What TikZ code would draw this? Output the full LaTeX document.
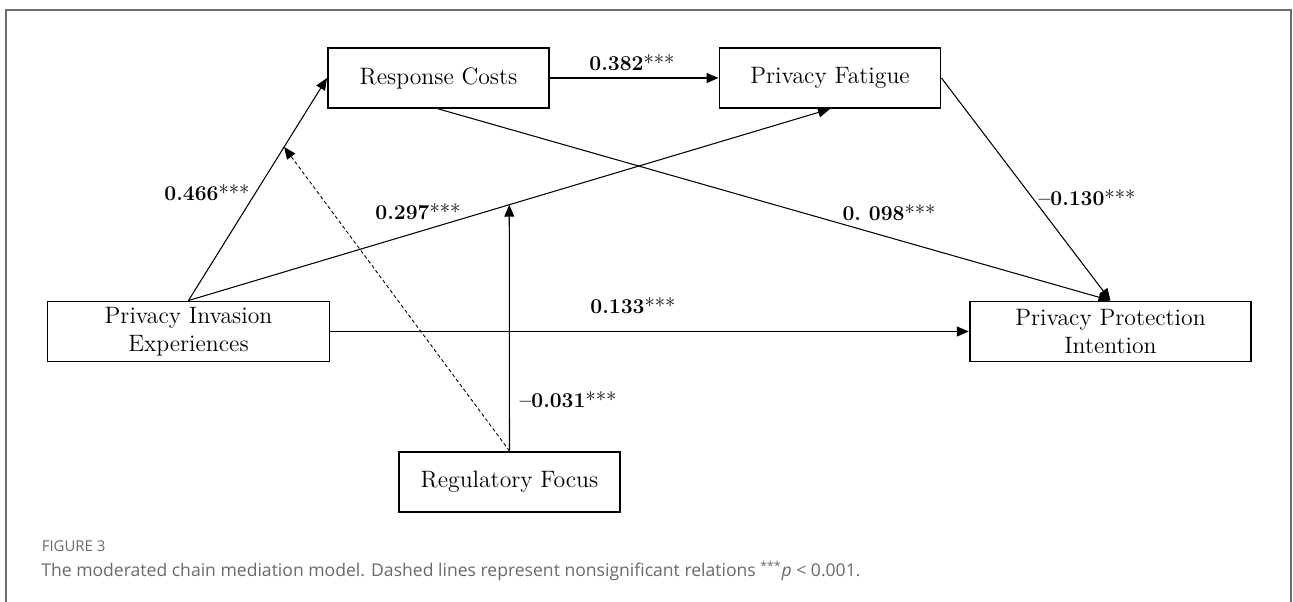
\documentclass[tikz,border=0pt]{standalone}
\usepackage{fontspec}
\newfontfamily\capfont{Open Sans}
\usetikzlibrary{arrows.meta,calc,positioning}
\definecolor{capgray}{RGB}{105,105,105}
\definecolor{framegray}{RGB}{110,110,110}
\tikzset
{
    varnode/.style = {rectangle, draw=black, line width=1.1pt, align=center, minimum width=4.42cm, minimum height=1.2cm, inner sep=1pt, font=\fontsize{13.5}{16}\selectfont},
    coef/.style    = {inner sep=0pt, font=\fontsize{12}{14}\selectfont\bfseries},
    effect/.style  = {draw=black, line width=0.6pt, -{Triangle[length=0.24cm,width=0.2cm]}},
    figlabel/.style = {inner sep=0pt, text=capgray, font=\capfont\fontsize{8.5}{10}\selectfont},
    captext/.style  = {inner sep=0pt, text=capgray, font=\capfont\fontsize{10}{12}\selectfont}
}
\newcommand\sig{{\mdseries ***}}

\begin{document}
\begin{tikzpicture}
\useasboundingbox (0,0) rectangle (25.86,12.04);
\draw[framegray, line width=1.1pt] (0.12,0) -- (0.12,11.84) -- (25.82,11.84) -- (25.82,0);

\node (rc)  [varnode]                      at (8.77,10.48)  {Response Costs};
\node (pf)  [varnode]                      at (16.6,10.48)  {Privacy Fatigue};
\node (pie) [varnode, minimum width=5.64cm] at (3.77,5.41)   {Privacy Invasion\\Experiences};
\node (ppi) [varnode, minimum width=5.63cm] at (22.21,5.41)  {Privacy Protection\\Intention};
\node (rf)  [varnode]                      at (10.19,2.4)   {Regulatory Focus};

% moderation targets
\coordinate (modrc) at ($(pie.north)!0.69!(rc.west)$);
\coordinate (modpf) at ($(pie.north)!0.5!(pf.south)$);

\path
(pie.north) edge[effect] (rc.west)
(pie.north) edge[effect] (pf.south)
(rc.east)   edge[effect] (pf.west)
(rc.south)  edge[effect] (ppi.north)
(pf.east)   edge[effect] (ppi.north)
(pie.east)  edge[effect] (ppi.west)
(rf.north)  edge[effect] (modpf)
(rf.north)  edge[effect, line width=0.5pt, dash pattern=on 2pt off 1.5pt] (modrc);

%% coefficients
\node (c1) [coef] at (4.14,8.18)  {0.466\sig};
\node (c2) [coef] at (8.36,7.8)   {0.297\sig};
\node (c3) [coef] at (12.64,10.78) {0.382\sig};
\node (c4) [coef] at (17.78,7.78) {0.\ 098\sig};
\node (c5) [coef] at (21.74,8.08) {--0.130\sig};
\node (c6) [coef] at (12.66,5.92) {0.133\sig};
\node (c7) [coef] at (11.36,4.04) {--0.031\sig};

%% caption
\node (fig) [figlabel, anchor=base west] at (0.83,1.0) {FIGURE 3};
\node (cap) [captext, anchor=base west] at (0.82,0.51) {The moderated chain mediation model. Dashed lines represent nonsignificant relations \textsuperscript{***}\textit{p} < 0.001.};
\end{tikzpicture}
\end{document}
